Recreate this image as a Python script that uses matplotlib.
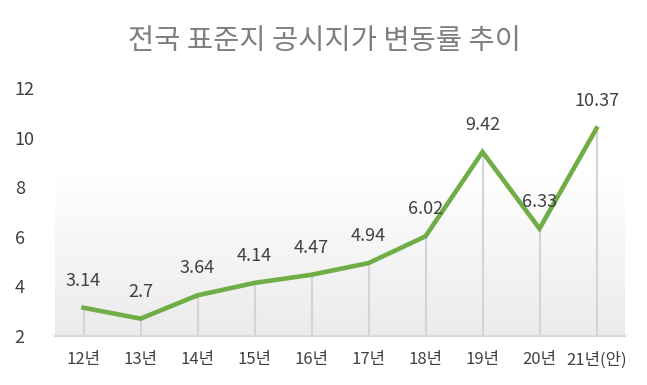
import matplotlib
matplotlib.use("Agg")
import matplotlib.pyplot as plt
import numpy as np
from matplotlib.colors import LinearSegmentedColormap

plt.rcParams['font.family'] = ['Noto Sans CJK KR', 'DejaVu Sans']

categories = ["12년", "13년", "14년", "15년", "16년", "17년", "18년", "19년", "20년", "21년(안)"]
values = [3.14, 2.7, 3.64, 4.14, 4.47, 4.94, 6.02, 9.42, 6.33, 10.37]
labels = ["3.14", "2.7", "3.64", "4.14", "4.47", "4.94", "6.02", "9.42", "6.33", "10.37"]
yticks = [2, 4, 6, 8, 10, 12]
title = "전국 표준지 공시지가 변동률 추이"

fig = plt.figure(figsize=(6.47, 3.85), dpi=100)
ax = fig.add_axes([55/647, 49/385, 570/647, 248/385])

x = np.arange(len(categories))
ax.set_xlim(-0.5, len(categories) - 0.5)
ax.set_ylim(2, 12)

# gradient background
grad = np.linspace(0, 1, 256).reshape(-1, 1)
cmap = LinearSegmentedColormap.from_list("g", ["#ebebeb", "#f5f5f5", "#ffffff", "#ffffff"])
ax.imshow(grad, aspect='auto', cmap=cmap, extent=[-0.5, len(categories) - 0.5, 2, 12],
          origin='lower', zorder=0)

ax.vlines(x, 2, values, color="#d4d4d4", lw=1.5, zorder=1)
ax.plot(x, values, color="#70ad47", lw=3.3, zorder=3, solid_joinstyle='miter')

for xi, v, lab in zip(x, values, labels):
    ax.annotate(lab, (xi, v), xytext=(0, 13), textcoords='offset points',
                ha='center', va='bottom', fontsize=13, color="#404040")

for s in ['top', 'right', 'left']:
    ax.spines[s].set_visible(False)
ax.spines['bottom'].set_color("#d9d9d9")
ax.spines['bottom'].set_linewidth(1.5)

ax.set_xticks(x)
ax.set_xticklabels(categories, fontsize=12, color="#404040")
ax.set_yticks(yticks)
ax.set_yticklabels([str(t) for t in yticks], fontsize=13, color="#404040")
ax.tick_params(axis='both', length=0)
ax.tick_params(axis='x', pad=11)
ax.tick_params(axis='y', pad=29)
for t in ax.get_yticklabels():
    t.set_horizontalalignment('left')

fig.text(325/647, 1 - 41/385, title, ha='center', va='center', fontsize=20.5, color="#7f7f7f")

fig.savefig("out.png", dpi=100)
